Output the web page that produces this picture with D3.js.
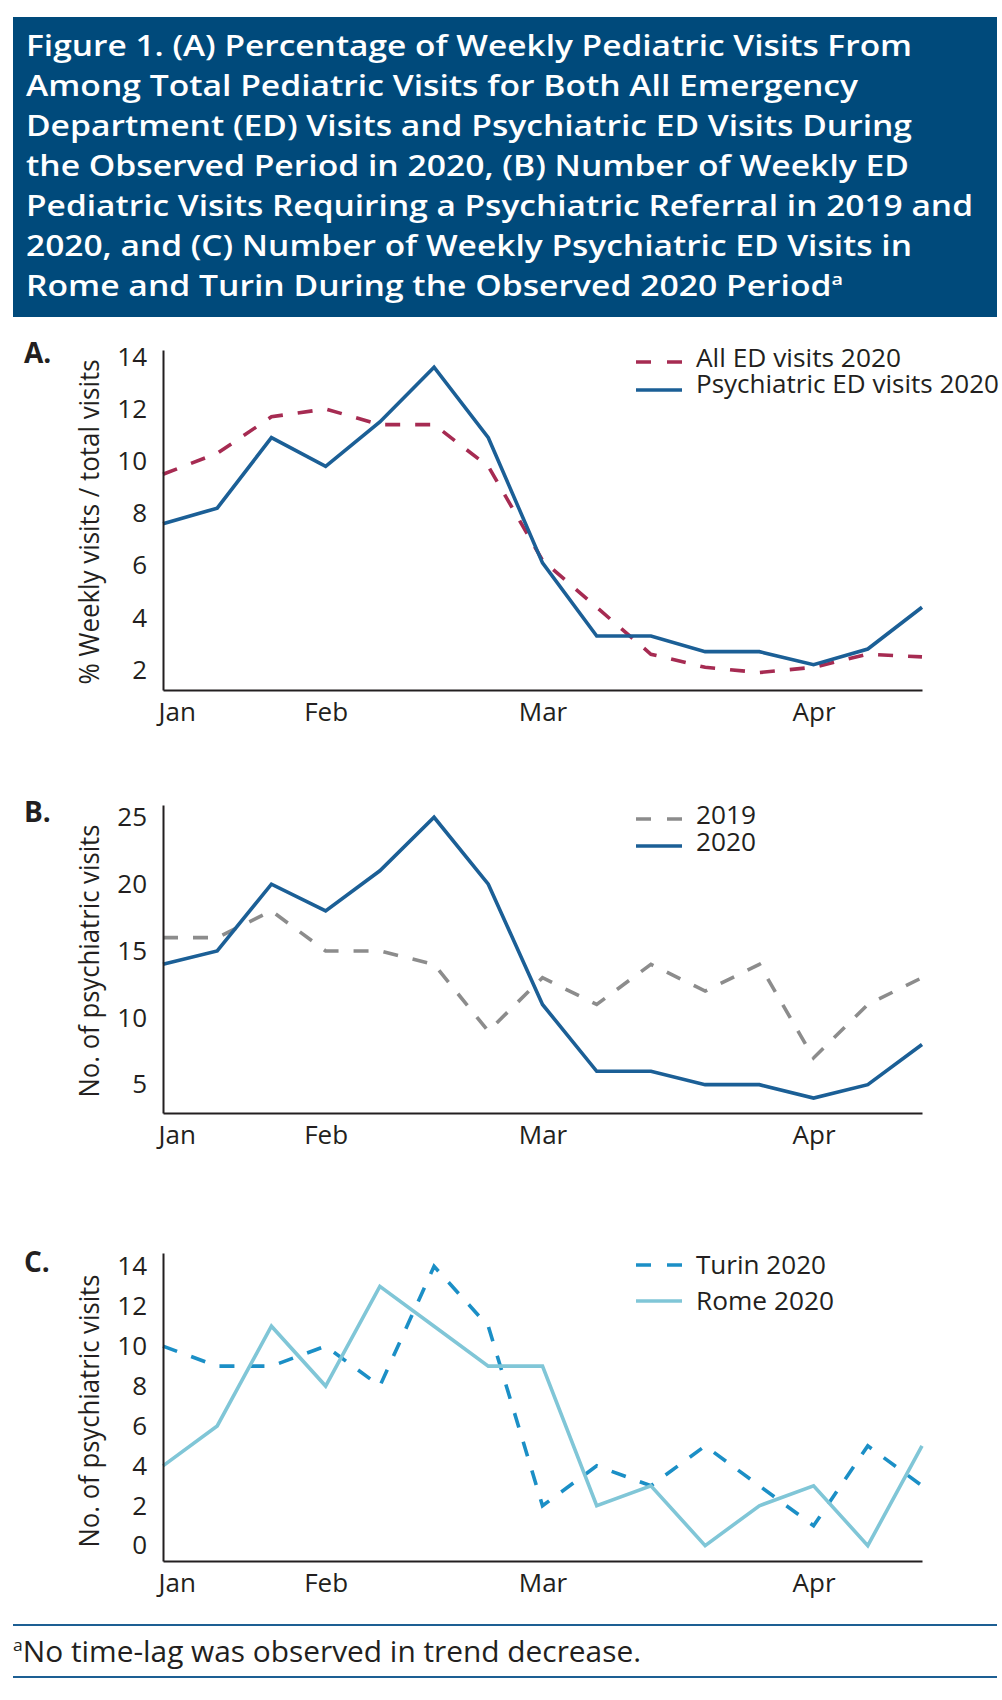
<!DOCTYPE html>
<html>
<head>
<meta charset="utf-8">
<script src="https://cdn.jsdelivr.net/npm/d3@7"></script>
<style>
  body { margin: 0; background: #fff; }
  text { font-family: "Open Sans", "DejaVu Sans", sans-serif; fill: #231f20; }
</style>
</head>
<body>
<script>
// ---- data ----
const weeks = [0, 1, 2, 3, 4, 5, 6, 7, 8, 9, 10, 11, 12, 13, 14];
const monthLabels = ['Jan', 'Feb', 'Mar', 'Apr'];
const monthWeeks = [0, 3, 7, 12];

// panel A: % weekly visits / total visits
const allEd2020 = [9.5, 10.3, 11.7, 12.0, 11.4, 11.4, 9.8, 6.2, 4.4, 2.6, 2.1, 1.9, 2.1, 2.6, 2.5];
const psychEd2020 = [7.6, 8.2, 10.9, 9.8, 11.5, 13.6, 10.9, 6.1, 3.3, 3.3, 2.7, 2.7, 2.2, 2.8, 4.4];
const ticksA = [2, 4, 6, 8, 10, 12, 14];

// panel B: weekly psychiatric referrals
const psych2019 = [16, 16, 18, 15, 15, 14, 9, 13, 11, 14, 12, 14, 7, 11, 13];
const psych2020 = [14, 15, 20, 18, 21, 25, 20, 11, 6, 6, 5, 5, 4, 5, 8];
const ticksB = [5, 10, 15, 20, 25];

// panel C: weekly psychiatric visits by city
const turin2020 = [10, 9, 9, 10, 8, 14, 11, 2, 4, 3, 5, 3, 1, 5, 3];
const rome2020 = [4, 6, 11, 8, 13, 11, 9, 9, 2, 3, 0, 2, 3, 0, 5];
const ticksC = [0, 2, 4, 6, 8, 10, 12, 14];

const titleLines = [
  'Figure 1. (A) Percentage of Weekly Pediatric Visits From',
  'Among Total Pediatric Visits for Both All Emergency',
  'Department (ED) Visits and Psychiatric ED Visits During',
  'the Observed Period in 2020, (B) Number of Weekly ED',
  'Pediatric Visits Requiring a Psychiatric Referral in 2019 and',
  '2020, and (C) Number of Weekly Psychiatric ED Visits in',
  'Rome and Turin During the Observed 2020 Period'
];
const footnote = 'No time-lag was observed in trend decrease.';

// ---- layout ----
const ink = '#231f20';
const W = 1002, H = 1700;
const svg = d3.select('body').append('svg').attr('width', W).attr('height', H);

const x = d3.scaleLinear().domain([0, 14]).range([163, 922]);

// title box
svg.append('rect')
  .attr('x', 13).attr('y', 17).attr('width', 984).attr('height', 300)
  .attr('fill', '#004a7b');

const titleWidths = [886, 832, 886, 883, 947, 886, 817];
titleLines.forEach((line, i) => {
  const t = svg.append('text')
    .attr('x', 26).attr('y', 56 + i * 40)
    .style('font-size', '29px').style('font-weight', 600)
    .style('fill', '#fff');
  t.append('tspan').text(line);
  if (i === titleLines.length - 1) {
    t.append('tspan').text('a').attr('dy', -11).style('font-size', '17px');
  }
  t.attr('textLength', titleWidths[i]).attr('lengthAdjust', 'spacingAndGlyphs');
});

const panels = [
  {
    tag: 'A.', tagY: 363,
    yDomain: [1.23, 14.26], yRange: [690, 350], ticks: ticksA,
    yTitle: '% Weekly visits / total visits', yTitleMid: 522, yTitleLen: 325,
    legendY: [362, 390], legendBase: [367, 393], legendLen: [205, 303],
    series: [
      { name: 'All ED visits 2020', values: allEd2020, color: '#a62b52', dash: '15,15' },
      { name: 'Psychiatric ED visits 2020', values: psychEd2020, color: '#1b5f96', dash: null }
    ]
  },
  {
    tag: 'B.', tagY: 822,
    yDomain: [2.88, 25.92], yRange: [1113, 805], ticks: ticksB,
    yTitle: 'No. of psychiatric visits', yTitleMid: 961, yTitleLen: 273,
    legendY: [819, 846], legendBase: [824, 851], legendLen: [60, 60],
    series: [
      { name: '2019', values: psych2019, color: '#8c8c8c', dash: '15,15' },
      { name: '2020', values: psych2020, color: '#1b5f96', dash: null }
    ]
  },
  {
    tag: 'C.', tagY: 1272,
    yDomain: [-0.77, 14.67], yRange: [1561, 1253], ticks: ticksC,
    yTitle: 'No. of psychiatric visits', yTitleMid: 1411, yTitleLen: 273,
    legendY: [1265, 1301], legendBase: [1274, 1310], legendLen: [130, 138],
    series: [
      { name: 'Turin 2020', values: turin2020, color: '#1b8fc6', dash: '15,15' },
      { name: 'Rome 2020', values: rome2020, color: '#80c6d7', dash: null }
    ]
  }
];

panels.forEach(p => {
  const y = d3.scaleLinear().domain(p.yDomain).range(p.yRange);
  const g = svg.append('g');

  // lines
  const line = d3.line().x((d, i) => x(weeks[i])).y(d => y(d)).curve(d3.curveLinear);
  p.series.forEach(s => {
    g.append('path')
      .datum(s.values)
      .attr('d', line)
      .attr('fill', 'none')
      .attr('stroke', s.color)
      .attr('stroke-width', 3.6)
      .attr('stroke-linejoin', 'miter')
      .attr('stroke-dasharray', s.dash);
  });

  // axes
  const yAxis = g.append('g')
    .attr('transform', `translate(${x.range()[0]},0)`)
    .call(d3.axisLeft(y).tickValues(p.ticks).tickSize(0).tickPadding(16));
  const xAxis = g.append('g')
    .attr('transform', `translate(0,${p.yRange[0]})`)
    .call(d3.axisBottom(x).tickValues(monthWeeks)
      .tickFormat((d, i) => monthLabels[i]).tickSize(0).tickPadding(13));

  [yAxis, xAxis].forEach(a => {
    a.select('.domain').attr('stroke', ink).attr('stroke-width', 2);
    a.selectAll('text')
      .attr('fill', ink)
      .style('font-size', '26px')
      .style('font-family', '"Open Sans", sans-serif');
  });
  xAxis.selectAll('.tick text')
    .filter((d, i) => i === 0)
    .attr('text-anchor', 'start')
    .attr('x', -5);

  // axis title
  g.append('text')
    .attr('transform', `translate(99,${p.yTitleMid}) rotate(-90)`)
    .attr('text-anchor', 'middle')
    .style('font-size', '27px')
    .text(p.yTitle)
    .attr('textLength', p.yTitleLen).attr('lengthAdjust', 'spacingAndGlyphs');

  // panel tag
  g.append('text')
    .attr('x', 24).attr('y', p.tagY)
    .style('font-size', '28px').style('font-weight', 700)
    .text(p.tag);

  // legend
  p.series.forEach((s, i) => {
    g.append('line')
      .attr('x1', 636).attr('x2', 682)
      .attr('y1', p.legendY[i]).attr('y2', p.legendY[i])
      .attr('stroke', s.color).attr('stroke-width', 3.6)
      .attr('stroke-dasharray', s.dash ? '15,16' : null);
    g.append('text')
      .attr('x', 696).attr('y', p.legendBase[i])
      .style('font-size', '25px')
      .text(s.name)
      .attr('textLength', p.legendLen[i]).attr('lengthAdjust', 'spacingAndGlyphs');
  });
});

// footnote with rules
[1625, 1677].forEach(ry => {
  svg.append('line')
    .attr('x1', 13).attr('x2', 997).attr('y1', ry).attr('y2', ry)
    .attr('stroke', '#1d5f93').attr('stroke-width', 2);
});
const fn = svg.append('text').attr('x', 13).attr('y', 1662).style('font-size', '29px');
fn.append('tspan').text('a').attr('dy', -11).style('font-size', '17px');
fn.append('tspan').text(footnote).attr('dy', 11);
fn.attr('textLength', 628).attr('lengthAdjust', 'spacingAndGlyphs');
</script>
</body>
</html>
